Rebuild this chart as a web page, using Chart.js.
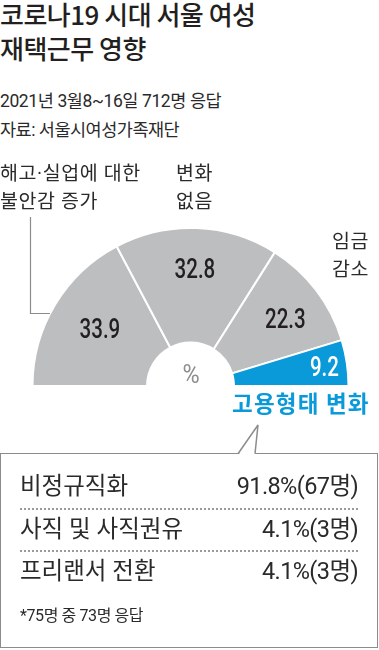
<!DOCTYPE html>
<html><head><meta charset="utf-8">
<script src="https://cdn.jsdelivr.net/npm/chart.js@4/dist/chart.umd.min.js"></script>
<style>
body{margin:0;width:379px;height:650px;overflow:hidden;background:#fff;font-family:"Noto Sans CJK KR",sans-serif;color:#231f20;position:relative}
.a{position:absolute;white-space:nowrap}
#chartWrap{position:absolute;left:0;top:140px;width:379px;height:290px}
#box{position:absolute;left:0;top:453px;width:376px;height:193px;border:1.5px solid #8c8c8c}
.row{position:absolute;left:20px;width:338px;height:42px;font-size:23.5px;line-height:42px;color:#2a2a2a;font-family:Roboto,"Noto Sans CJK KR",sans-serif}
.row .v{position:absolute;right:0;top:0}
.dot{position:absolute;left:20px;width:338px;border-top:2px dotted #9a9a9a}
</style></head><body>
<div class="a" style="left:0;top:-3px;font-size:26px;line-height:34px;letter-spacing:-0.5px;font-weight:500">코로나19 시대 서울 여성<br>재택근무 영향</div>
<div class="a" style="left:0;top:89px;font-size:17.5px;line-height:24px;letter-spacing:-0.4px;color:#2a2a2a;font-family:Roboto,'Noto Sans CJK KR',sans-serif">2021년 3월8~16일 712명 응답</div>
<div class="a" style="left:0;top:117.5px;font-size:17.5px;line-height:24px;letter-spacing:-0.5px;color:#2a2a2a;font-family:Roboto,'Noto Sans CJK KR',sans-serif">자료: 서울시여성가족재단</div>
<div id="chartWrap"><canvas id="c" width="379" height="290"></canvas></div>
<div id="box"></div>
<svg class="a" style="left:0;top:420px" width="379" height="40">
<polygon points="239,34 258,5 255,34" fill="#fff"/>
<polyline points="238,33.7 258,5 255,33.7" fill="none" stroke="#8c8c8c" stroke-width="1.5"/>
</svg>
<script>
// ---- data ----
const categories = ['해고·실업에 대한 불안감 증가', '변화 없음', '임금 감소', '고용형태 변화'];
const shares = [33.9, 32.8, 22.3, 9.2];
const detailLabels = ['비정규직화', '사직 및 사직권유', '프리랜서 전환'];
const detailShares = [91.8, 4.1, 4.1];
const detailCounts = [67, 3, 3];
const footnote = '*75명 중 73명 응답';
const unitLabel = '%';

// ---- styles / positions ----
const GRAY = '#bdbec0', BLUE = '#0a9ad9', DARK = '#231f20';
const valueAngFrac = [0.51, 0.5, 0.56, 0.55];
const valueRadFrac = [0.55, 0.63, 0.63, 0.8];
const valueColors = [DARK, DARK, DARK, '#ffffff'];
// outer category label layout (canvas coords, left x, first line center y)
const catLines = [['해고·실업에 대한', '불안감 증가'], ['변화', '없음'], ['임금', '감소'], ['고용형태 변화']];
const catPos = [[0, 35], [176, 35], [332, 103], [232, 263]];

// box rows
const box = document.body;
detailLabels.forEach((lab, i) => {
  const r = document.createElement('div');
  r.className = 'row';
  r.style.top = (465 + i * 42.5) + 'px';
  r.textContent = lab;
  const v = document.createElement('span');
  v.className = 'v';
  v.style.letterSpacing = '-0.6px';
  v.textContent = detailShares[i].toFixed(1) + '%(' + detailCounts[i] + '명)';
  r.appendChild(v);
  box.appendChild(r);
  if (i < detailLabels.length - 1) {
    const d = document.createElement('div');
    d.className = 'dot';
    d.style.top = (508 + i * 42) + 'px';
    box.appendChild(d);
  }
});
const fn = document.createElement('div');
fn.className = 'a';
fn.style.cssText = 'left:20px;top:604px;font-size:16px;line-height:24px;letter-spacing:-0.4px;color:#2a2a2a;font-family:Roboto,"Noto Sans CJK KR",sans-serif';
fn.textContent = footnote;
box.appendChild(fn);

const labelPlugin = {
  id: 'labels',
  afterDatasetsDraw(chart) {
    const ctx = chart.ctx;
    const meta = chart.getDatasetMeta(0);
    ctx.save();
    // values
    meta.data.forEach((arc, i) => {
      const p = arc.getProps(['x', 'y', 'startAngle', 'endAngle', 'innerRadius', 'outerRadius'], true);
      const a = p.startAngle + (p.endAngle - p.startAngle) * valueAngFrac[i];
      const r = p.innerRadius + (p.outerRadius - p.innerRadius) * valueRadFrac[i];
      const x = p.x + r * Math.cos(a), y = p.y + r * Math.sin(a);
      ctx.save();
      ctx.translate(x, y);
      ctx.scale(0.76, 1);
      ctx.font = '500 27px Roboto';
      ctx.fillStyle = valueColors[i];
      ctx.textAlign = 'center';
      ctx.textBaseline = 'middle';
      ctx.fillText(String(shares[i]), 0, 1);
      ctx.restore();
    });
    // unit in the hole
    const p0 = meta.data[0].getProps(['x', 'y'], true);
    ctx.save();
    ctx.translate(p0.x + 0.5, p0.y - 10);
    ctx.scale(0.9, 1);
    ctx.font = '400 26px Roboto';
    ctx.fillStyle = '#8f8f8f';
    ctx.textAlign = 'center';
    ctx.textBaseline = 'middle';
    ctx.fillText(unitLabel, 0, 0);
    ctx.restore();
    // category labels
    ctx.textAlign = 'left';
    ctx.textBaseline = 'middle';
    catLines.forEach((lines, i) => {
      const last = i === catLines.length - 1;
      ctx.font = last ? '700 22.5px "Noto Sans CJK KR"' : '400 19.5px Roboto, "Noto Sans CJK KR"';
      ctx.letterSpacing = last ? '1.2px' : '0.6px';
      ctx.fillStyle = last ? BLUE : '#2a2a2a';
      lines.forEach((t, j) => ctx.fillText(t, catPos[i][0], catPos[i][1] + j * 28));
    });
    ctx.letterSpacing = '0px';
    // leader line for first category
    ctx.strokeStyle = '#8c8c8c';
    ctx.lineWidth = 1.2;
    ctx.beginPath();
    ctx.moveTo(30.5, 77);
    ctx.lineTo(30.5, 173.5);
    ctx.lineTo(50, 173.5);
    ctx.stroke();
    ctx.restore();
  }
};

new Chart(document.getElementById('c'), {
  type: 'doughnut',
  data: {
    labels: categories,
    datasets: [{
      data: shares,
      backgroundColor: [GRAY, GRAY, GRAY, BLUE],
      borderColor: '#ffffff',
      borderWidth: 2,
      hoverBorderWidth: 2,
      hoverOffset: 0
    }]
  },
  options: {
    responsive: false,
    devicePixelRatio: 1,
    animation: false,
    rotation: -90,
    circumference: 180,
    cutout: '27.5%',
    radius: 158,
    layout: { padding: { left: 2, right: 0, top: 88, bottom: 44 } },
    plugins: { legend: { display: false }, tooltip: { enabled: false } },
    events: []
  },
  plugins: [labelPlugin]
});
</script>
</body></html>
